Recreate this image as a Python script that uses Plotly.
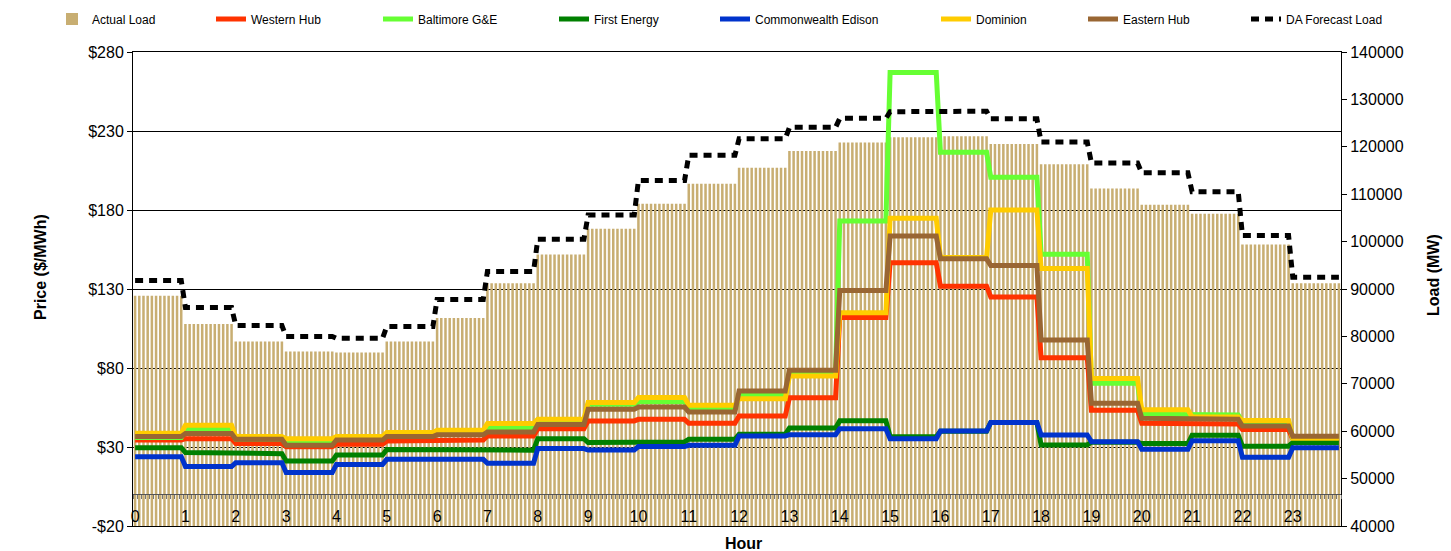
import numpy as np
import plotly.graph_objects as go

# ---------------- data (hourly values) ----------------
hours = ["0", "1", "2", "3", "4", "5", "6", "7", "8", "9", "10", "11",
         "12", "13", "14", "15", "16", "17", "18", "19", "20", "21", "22", "23"]
samples_per_hour = 12  # 5-minute intervals

actual_load = [88600, 82600, 78900, 76800, 76600, 78900, 83900, 91200, 97300, 102700, 108000, 112200,
               115600, 119100, 120900, 122000, 122200, 120600, 116300, 111200, 107800, 105900, 99400, 91200]
da_forecast_load = [91800, 86100, 82300, 80000, 79600, 82100, 87800, 93700, 100500, 105600, 112900, 118200,
                    121700, 124100, 126000, 127400, 127500, 125900, 121000, 116600, 114500, 110500, 101300, 92500]

western_hub = [34.5, 35.3, 32.2, 30.2, 31.7, 33.8, 34.5, 37.0, 41.6, 46.5, 47.5, 45.0,
               49.6, 61.2, 112.0, 146.6, 131.8, 125.0, 86.5, 53.2, 45.0, 44.6, 41.0, 35.0]
baltimore = [36.0, 41.0, 35.0, 33.8, 35.5, 38.0, 39.5, 41.8, 46.0, 57.0, 58.7, 53.9,
             62.7, 77.0, 173.0, 267.0, 216.5, 200.7, 152.0, 70.3, 50.7, 50.3, 46.0, 35.5]
first_energy = [29.6, 26.5, 25.8, 21.1, 24.9, 28.4, 28.4, 28.0, 35.3, 32.8, 33.2, 34.9,
                38.0, 42.0, 46.6, 36.5, 40.0, 45.5, 31.3, 33.0, 32.2, 37.4, 30.5, 32.8]
comed = [23.9, 17.6, 20.1, 13.8, 19.0, 22.2, 22.2, 19.7, 29.0, 28.1, 30.3, 31.1,
         37.0, 37.8, 41.6, 35.3, 40.1, 45.5, 37.6, 33.4, 28.5, 34.0, 23.5, 29.6]
dominion = [38.7, 43.7, 36.6, 35.3, 36.6, 39.1, 40.6, 44.8, 47.5, 58.1, 61.3, 56.4,
            60.6, 74.9, 114.9, 174.7, 150.0, 180.0, 143.0, 73.3, 53.6, 49.0, 46.8, 35.5]
eastern_hub = [36.6, 38.5, 34.9, 31.1, 34.4, 36.6, 37.7, 39.5, 44.3, 53.9, 55.3, 52.2,
               65.4, 78.5, 129.1, 163.5, 149.1, 144.9, 97.8, 57.7, 48.2, 47.5, 43.3, 36.8]

price_ticks = [-20, 30, 80, 130, 180, 230, 280]
price_tick_text = ["-$20", "$30", "$80", "$130", "$180", "$230", "$280"]

# ---------------- styling ----------------
FONT = "Liberation Sans, Arial, sans-serif"
W, H = 1451, 551
L, R, T, B = 133, 110, 52, 25
PW, PH = W - L - R, H - T - B

n = len(hours) * samples_per_hour
xi = np.arange(n)


def expand(v):
    return np.repeat(np.asarray(v, dtype=float), samples_per_hour)


def px_x(p):
    return (p - L) / PW


def px_y(p):
    return (H - B - p) / PH


fig = go.Figure()

fig.add_trace(go.Bar(x=xi, y=expand(actual_load), name="Actual Load",
                     marker=dict(color="#C8AE72", line=dict(width=0)),
                     xaxis="x", yaxis="y", legend="legend", hoverinfo="skip"))

series = [
    ("Western Hub", western_hub, "#FF3300", "legend2"),
    ("Baltimore G&E", baltimore, "#66FF33", "legend3"),
    ("First Energy", first_energy, "#008000", "legend4"),
    ("Commonwealth Edison", comed, "#0033CC", "legend5"),
    ("Dominion", dominion, "#FFCC00", "legend6"),
    ("Eastern Hub", eastern_hub, "#996633", "legend7"),
]
for name, vals, col, lg in series:
    fig.add_trace(go.Scatter(x=xi, y=expand(vals), name=name, mode="lines",
                             line=dict(color=col, width=5), xaxis="x", yaxis="y2",
                             legend=lg, hoverinfo="skip"))

fig.add_trace(go.Scatter(x=xi, y=expand(da_forecast_load), name="DA Forecast Load", mode="lines",
                         line=dict(color="black", width=5, dash="8px,6px"),
                         xaxis="x", yaxis="y3", legend="legend8", hoverinfo="skip"))

# dummy traces so the helper axes (the $0 category line, the plot frame) get drawn
fig.add_trace(go.Scatter(x=[0], y=[0], mode="markers", marker=dict(opacity=0),
                         xaxis="x2", yaxis="y2", showlegend=False, hoverinfo="skip"))
fig.add_trace(go.Scatter(x=[0], y=[0], mode="markers", marker=dict(opacity=0),
                         xaxis="x3", yaxis="y2", showlegend=False, hoverinfo="skip"))

text_starts = [92, 251, 418, 594, 755, 976, 1123, 1286]
legend_layout = {}
for k, ts in enumerate(text_starts):
    key = "legend" if k == 0 else f"legend{k + 1}"
    legend_layout[key] = dict(xref="container", yref="container",
                              x=(ts - 40) / W, y=1 - 19 / H, xanchor="left", yanchor="middle",
                              orientation="h", bgcolor="rgba(0,0,0,0)",
                              font=dict(family=FONT, size=12, color="black"))

xr = [-0.5, n - 0.5]
tickfont = dict(family=FONT, size=16, color="black")

fig.update_layout(
    width=W, height=H, margin=dict(l=L, r=R, t=T, b=B, autoexpand=False),
    paper_bgcolor="white", plot_bgcolor="white",
    font=dict(family=FONT, color="black"),
    bargap=0.4, showlegend=True,
    xaxis=dict(range=xr, tickvals=xi[::samples_per_hour], ticktext=hours,
               ticks="", ticklabelstandoff=-21, showgrid=False, showline=False,
               zeroline=False, tickfont=tickfont),
    xaxis2=dict(range=xr, overlaying="x", anchor="free", position=(0 - (-20)) / 300,
                showticklabels=False, ticks="outside", ticklen=4, tickcolor="#777777",
                tick0=0.5, dtick=1, showline=True, linecolor="#555555", linewidth=1,
                showgrid=False, zeroline=False, layer="above traces"),
    xaxis3=dict(range=xr, overlaying="x", anchor="y2", showticklabels=False, ticks="",
                showline=True, mirror=True, linecolor="black", linewidth=1,
                showgrid=False, zeroline=False, layer="below traces"),
    yaxis=dict(range=[40000, 140000], side="right", dtick=10000, tickformat="d",
               ticks="outside", ticklen=5, tickcolor="black", showline=True, linecolor="black",
               showgrid=False, zeroline=False, tickfont=tickfont),
    yaxis2=dict(range=[-20, 280], overlaying="y", side="left", tickvals=price_ticks,
                ticktext=price_tick_text, ticks="outside", ticklen=5, tickcolor="black",
                showline=True, linecolor="black", showgrid=True, gridcolor="black",
                gridwidth=1, zeroline=False, tickfont=tickfont),
    yaxis3=dict(range=[40000, 140000], overlaying="y", visible=False),
    annotations=[
        dict(text="<b>Price ($/MWh)</b>", x=px_x(40), y=px_y(267), xref="paper", yref="paper",
             xanchor="center", yanchor="middle",
             showarrow=False, textangle=-90, font=dict(family=FONT, size=16, color="black")),
        dict(text="<b>Load (MW)</b>", x=px_x(1433), y=px_y(275), xref="paper", yref="paper",
             xanchor="center", yanchor="middle",
             showarrow=False, textangle=-90, font=dict(family=FONT, size=16, color="black")),
        dict(text="<b>Hour</b>", x=px_x(743), y=px_y(543), xref="paper", yref="paper",
             xanchor="center", yanchor="middle",
             showarrow=False, font=dict(family=FONT, size=16, color="black")),
    ],
    **legend_layout,
)

fig.write_html("out.html", config={"displayModeBar": False},
               post_script="document.body.style.margin='0';")
